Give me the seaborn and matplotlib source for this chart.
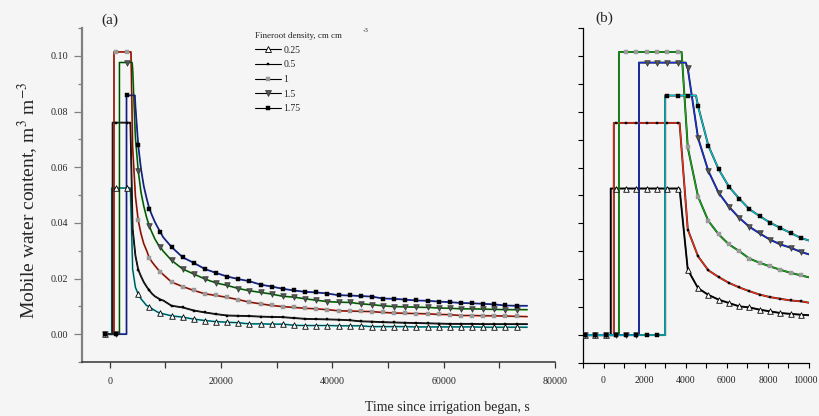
import pandas as pd
import matplotlib
matplotlib.use("Agg")
import matplotlib.pyplot as plt
from matplotlib.lines import Line2D
from matplotlib.transforms import ScaledTranslation
from matplotlib.ticker import MultipleLocator, FormatStrFormatter, NullFormatter
import seaborn as sns

# --- DATA ---
densities = ["0.25", "0.5", "1", "1.5", "1.75"]

# sample times (s): every 500 s at the start, every 2000 s in the tail
times_fine = [-900, -400, 100, 600, 1100, 1600, 2100, 2600, 3100, 3600, 4100,
              4600, 5100, 5600, 6100, 6600, 7100, 7600, 8100, 8600, 9100, 9600]
times_coarse = [11100, 13100, 15100, 17100, 19100, 21100, 23100, 25100, 27100,
                29100, 31100, 33100, 35100, 37100, 39100, 41100, 43100, 45100,
                47100, 49100, 51100, 53100, 55100, 57100, 59100, 61100, 63100,
                65100, 67100, 69100, 71100, 73100]
time_last = 75000

# step times of each curve (s) and plateau water content
rise_time = [350, 500, 750, 1725, 3000]
drain_time = [3700, 3700, 3800, 4000, 4500]
plateau = [0.0525, 0.0760, 0.1014, 0.0976, 0.0858]

theta_025 = [0, 0, 0, 0.0525, 0.0525, 0.0525, 0.0525, 0.0525, 0.0525, 0.0525,
             0.0234, 0.0168, 0.0144, 0.0127, 0.0115, 0.0103, 0.0099, 0.0091,
             0.0085, 0.0079, 0.0076, 0.0073]
theta_05 = [0, 0, 0, 0.0760, 0.0760, 0.0760, 0.0760, 0.0760, 0.0760, 0.0760,
            0.0378, 0.0282, 0.0232, 0.0208, 0.0187, 0.0171, 0.0157, 0.0145,
            0.0136, 0.0130, 0.0124, 0.0121]
theta_1 = [0, 0, 0, 0, 0.1014, 0.1014, 0.1014, 0.1014, 0.1014, 0.1014,
           0.0672, 0.0496, 0.0409, 0.0361, 0.0325, 0.0301, 0.0274, 0.0259,
           0.0246, 0.0234, 0.0223, 0.0214]
theta_15 = [0, 0, 0, 0, 0, 0, 0.0976, 0.0976, 0.0976, 0.0976,
            0.0955, 0.0706, 0.0588, 0.0510, 0.0460, 0.0420, 0.0388, 0.0364,
            0.0342, 0.0325, 0.0313, 0.0298]
theta_175 = [0, 0, 0, 0, 0, 0, 0, 0, 0.0858, 0.0858,
             0.0858, 0.0820, 0.0679, 0.0594, 0.0532, 0.0489, 0.0451, 0.0426,
             0.0403, 0.0384, 0.0366, 0.0348]

tail_025 = [0.0066, 0.0061, 0.0054, 0.0049, 0.0045, 0.0043, 0.0041, 0.0037,
            0.0037, 0.0036, 0.0036, 0.0032, 0.0031, 0.0031, 0.0031, 0.0030,
            0.0030, 0.0030, 0.0027, 0.0027, 0.0027, 0.0027, 0.0026, 0.0026,
            0.0026, 0.0026, 0.0026, 0.0026, 0.0025, 0.0025, 0.0025, 0.0025, 0.0025]
tail_05 = [0.0102, 0.0096, 0.0085, 0.0078, 0.0072, 0.0067, 0.0066, 0.0065,
           0.0063, 0.0062, 0.0061, 0.0058, 0.0055, 0.0054, 0.0053, 0.0052,
           0.0050, 0.0046, 0.0045, 0.0043, 0.0042, 0.0041, 0.0040, 0.0039,
           0.0038, 0.0037, 0.0037, 0.0037, 0.0036, 0.0036, 0.0036, 0.0036, 0.0036]
tail_1 = [0.0187, 0.0171, 0.0157, 0.0145, 0.0139, 0.0132, 0.0124, 0.0115,
          0.0109, 0.0103, 0.0099, 0.0096, 0.0093, 0.0091, 0.0088, 0.0084,
          0.0083, 0.0082, 0.0081, 0.0078, 0.0076, 0.0075, 0.0074, 0.0073,
          0.0071, 0.0070, 0.0067, 0.0067, 0.0066, 0.0066, 0.0065, 0.0064, 0.0063]
tail_15 = [0.0265, 0.0234, 0.0216, 0.0198, 0.0184, 0.0175, 0.0164, 0.0156,
           0.0150, 0.0144, 0.0136, 0.0133, 0.0127, 0.0122, 0.0117, 0.0115,
           0.0114, 0.0109, 0.0106, 0.0102, 0.0099, 0.0098, 0.0097, 0.0096,
           0.0094, 0.0093, 0.0091, 0.0091, 0.0090, 0.0089, 0.0088, 0.0088, 0.0088]
tail_175 = [0.0313, 0.0276, 0.0256, 0.0234, 0.0220, 0.0207, 0.0198, 0.0190,
            0.0178, 0.0171, 0.0163, 0.0157, 0.0152, 0.0150, 0.0146, 0.0140,
            0.0139, 0.0137, 0.0135, 0.0128, 0.0127, 0.0124, 0.0121, 0.0120,
            0.0117, 0.0115, 0.0112, 0.0111, 0.0109, 0.0107, 0.0103, 0.0102, 0.0102]

early = [theta_025, theta_05, theta_1, theta_15, theta_175]
tails = [tail_025, tail_05, tail_1, tail_15, tail_175]

# --- STYLE ---
BG = "#f5f5f5"
colors_a = ["#00c8d0", "black", "#ff2a10", "#10b010", "#1530e0"]
colors_b = ["black", "#ff2a10", "#10b010", "#1530e0", "#00c8d0"]
marker_style = [
    dict(marker="^", s=16, color="white", edgecolor="black", linewidth=0.6),
    dict(marker="s", s=4, color="black", edgecolor="black", linewidth=0.3),
    dict(marker="s", s=7, color="#9a9a9a", edgecolor="#9a9a9a", linewidth=0.3),
    dict(marker="v", s=16, color="#555555", edgecolor="#333333", linewidth=0.5),
    dict(marker="s", s=8, color="black", edgecolor="black", linewidth=0.3),
]


def build_lines():
    """Line points for every curve, with the step corners put in."""
    rows = []
    t_all = times_fine + times_coarse + [time_last]
    for i, name in enumerate(densities):
        y_all = early[i] + tails[i]
        on_done = off_done = False
        for t, y in zip(t_all, y_all):
            if not on_done and t > rise_time[i]:
                rows.append((name, rise_time[i], 0.0))
                rows.append((name, rise_time[i], plateau[i]))
                on_done = True
            if not off_done and t > drain_time[i]:
                rows.append((name, drain_time[i], plateau[i]))
                off_done = True
            rows.append((name, t, y))
    return pd.DataFrame(rows, columns=["density", "time", "theta"])


def draw_panel(ax, lines, colors, coarse_markers, colour_on_top):
    z_col, z_blk = (3, 2) if colour_on_top else (2, 3)
    lw_col, lw_blk = (0.9, 1.4) if colour_on_top else (1.3, 0.6)
    sns.lineplot(data=lines, x="time", y="theta", hue="density", palette=colors,
                 sort=False, estimator=None, linewidth=lw_col, legend=False,
                 ax=ax, zorder=z_col)
    sns.lineplot(data=lines, x="time", y="theta", hue="density",
                 palette=["#222222"] * 5, sort=False, estimator=None,
                 linewidth=lw_blk, legend=False, ax=ax, zorder=z_blk)
    for i in range(len(densities)):
        if coarse_markers:
            mt = times_fine[::4] + times_coarse
            my = early[i][::4] + tails[i][:-1]
        else:
            mt = times_fine
            my = early[i]
        sns.scatterplot(x=mt, y=my, ax=ax, zorder=4, legend=False,
                        **marker_style[i])


sns.set_theme(style="ticks")
plt.rcParams["font.family"] = ["Liberation Serif", "DejaVu Serif"]
plt.rcParams["mathtext.fontset"] = "stix"

lines = build_lines()

fig = plt.figure(figsize=(8.19, 4.16), dpi=100, facecolor=BG)
ax_a = fig.add_axes([82 / 819, 1 - 362 / 416, 473 / 819, 334 / 416])
ax_b = fig.add_axes([583 / 819, 1 - 363 / 416, 226 / 819, 335 / 416])

draw_panel(ax_a, lines, colors_a, True, False)
draw_panel(ax_b, lines, colors_b, False, True)

for ax in (ax_a, ax_b):
    ax.set_facecolor(BG)
    ax.set_ylim(-0.01, 0.11)
    ax.set_xlabel("")
    ax.set_ylabel("")
    ax.spines["top"].set_visible(False)
    ax.spines["right"].set_visible(False)
    ax.yaxis.set_major_locator(MultipleLocator(0.02))
    ax.yaxis.set_minor_locator(MultipleLocator(0.01))

ax_a.set_xlim(-5000, 80000)
ax_a.xaxis.set_major_locator(MultipleLocator(20000))
ax_a.xaxis.set_minor_locator(MultipleLocator(10000))
ax_a.yaxis.set_major_formatter(FormatStrFormatter("%.2f"))
ax_a.spines["left"].set_color("#808080")
ax_a.spines["left"].set_linewidth(1.6)
ax_a.spines["bottom"].set_color("#333333")
ax_a.spines["bottom"].set_linewidth(1.1)
ax_a.tick_params(axis="y", which="major", length=6, width=0.9, color="#808080",
                 labelsize=7.2, pad=4)
ax_a.tick_params(axis="y", which="minor", length=3, width=0.9, color="#808080")
ax_a.tick_params(axis="x", which="both", length=4.5, width=0.9, color="#333333",
                 labelsize=7.2, pad=6)

ax_b.set_xlim(-1000, 10000)
ax_b.xaxis.set_major_locator(MultipleLocator(2000))
ax_b.xaxis.set_minor_locator(MultipleLocator(1000))
ax_b.yaxis.set_major_formatter(NullFormatter())
for side in ("left", "bottom"):
    ax_b.spines[side].set_color("black")
    ax_b.spines[side].set_linewidth(0.9)
ax_b.tick_params(axis="both", which="both", length=3.5, width=0.8, color="black",
                 labelsize=7.1, pad=6)

# --- TEXT ---
fig.text(110 / 819, 1 - 20 / 416, "(a)", fontsize=11, ha="center", va="center")
fig.text(604 / 819, 1 - 18 / 416, "(b)", fontsize=11, ha="center", va="center")
fig.text(28 / 819, 1 - 200 / 416, "Mobile water content, m$^{3}$ m$^{-3}$",
         rotation=90, fontsize=14, ha="center", va="center")
fig.text(447 / 819, 1 - 407 / 416, "Time since irrigation began, s",
         fontsize=10, ha="center", va="center")

handles = []
for st in marker_style:
    handles.append(Line2D([0], [0], color="black", lw=0.8, marker=st["marker"],
                          markersize=st["s"] ** 0.5, markerfacecolor=st["color"],
                          markeredgecolor=st["edgecolor"],
                          markeredgewidth=st["linewidth"]))
leg = ax_a.legend(handles, densities, title="Fineroot density, cm cm",
                  loc="upper left", bbox_to_anchor=(255 / 819, 1 - 32 / 416),
                  bbox_transform=fig.transFigure, frameon=False, fontsize=7,
                  title_fontsize=6.5, handlelength=2.7, handletextpad=0.2,
                  labelspacing=0.58, borderpad=0, borderaxespad=0,
                  alignment="left")
fig.text(366 / 819, 1 - 31 / 416, "-3", fontsize=5, ha="center", va="center")

# the last tick label of panel (b) sits a little left of its tick, as in the source
fig.canvas.draw()
for tick in ax_b.xaxis.get_major_ticks():
    if tick.label1.get_text() == "10000":
        tick.label1.set_transform(tick.label1.get_transform()
                                  + ScaledTranslation(-0.035, 0, fig.dpi_scale_trans))

fig.savefig("out.png", dpi=100, facecolor=BG)
